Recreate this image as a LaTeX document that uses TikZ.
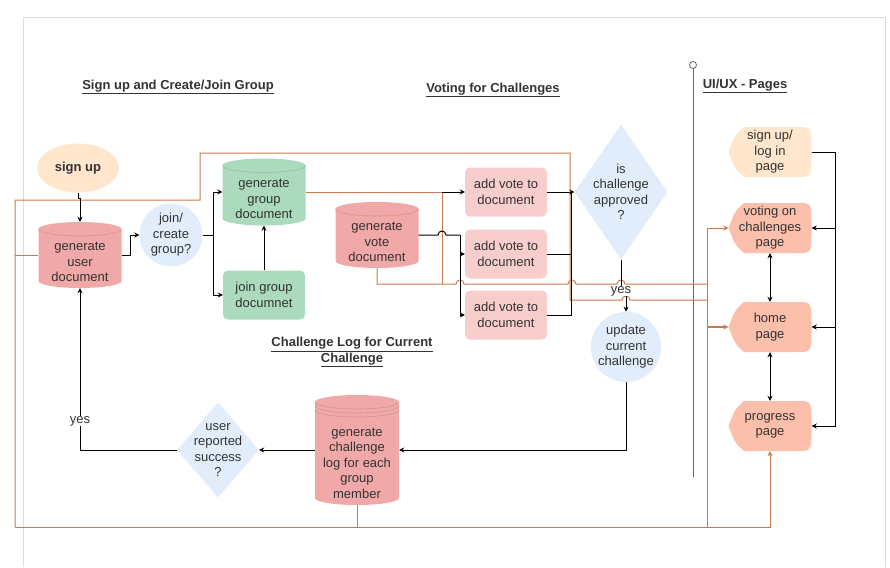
\documentclass[tikz,border=0pt]{standalone}
\usepackage{fontspec}
\setmainfont{Liberation Sans}
\usetikzlibrary{arrows.meta}
\usetikzlibrary{shapes.geometric}
\tikzset{>={Stealth[length=5pt,width=5pt]}}

\definecolor{txtgray}{HTML}{333333}
\definecolor{framegray}{HTML}{DDDDDD}
\definecolor{divgray}{HTML}{666666}
\definecolor{peach}{HTML}{FFE6CC}
\definecolor{salmon}{HTML}{FBBFAB}
\definecolor{dbpink}{HTML}{F0A9A8}
\definecolor{votepink}{HTML}{F8CECC}
\definecolor{dbgreen}{HTML}{ABDABD}
\definecolor{askblue}{HTML}{E2EDFB}
\definecolor{orangeln}{HTML}{C87A4D}

\tikzset{
  txt/.style={font=\fontsize{13}{15.5}\selectfont, text=txtgray, align=center, inner sep=1pt},
  ttl/.style={font=\bfseries\fontsize{13}{15.5}\selectfont, text=txtgray, align=center},
  dbbox/.style={rectangle, minimum width=83pt, minimum height=66pt, inner sep=0pt},
  votebox/.style={txt, rectangle, rounded corners=5pt, fill=votepink, minimum width=82pt, minimum height=49pt},
  askdia/.style={diamond, fill=askblue, inner sep=0pt},
  askcirc/.style={txt, circle, fill=askblue, minimum size=63pt, inner sep=0pt},
  pagebox/.style={txt, rectangle, minimum width=83pt, minimum height=50pt, inner sep=0pt},
  wire/.style={line width=1pt, black},
  owire/.style={line width=1pt, orangeln},
}

% cylinder body: centre x, centre y, width, height, colour
\newcommand{\dbfill}[5]{%
  \fill[#5] ({#1-#3/2},{#2-#4/2+7}) arc[start angle=180,end angle=360,x radius=#3/2,y radius=7]
    -- ({#1+#3/2},{#2+#4/2-7}) arc[start angle=0,end angle=180,x radius=#3/2,y radius=7] -- cycle;
  \draw[#5!88!black, line width=.6pt] ({#1-#3/2},{#2-#4/2+7}) arc[start angle=180,end angle=0,x radius=#3/2,y radius=7];
}
% page (display) body: centre x, centre y, colour
\newcommand{\pagefill}[3]{%
  \fill[#3] ({#1-41.5},#2) .. controls ({#1-35},{#2-17}) .. ({#1-26},{#2-25}) -- ({#1+28},{#2-25})
    .. controls ({#1+41.5},{#2-25}) .. ({#1+41.5},#2) .. controls ({#1+41.5},{#2+25}) .. ({#1+28},{#2+25})
    -- ({#1-26},{#2+25}) .. controls ({#1-35},{#2+17}) .. cycle;
}

\begin{document}
\begin{tikzpicture}[x=1pt, y=-1pt]
  \useasboundingbox (0,0) rectangle (890,567);
  % frame and divider
  \draw[framegray, line width=1pt] (23,567) -- (23,18) -- (885,18) -- (885,567);
  \draw[divgray, line width=1pt] (693,477) -- (693,68.5);
  \draw[divgray, line width=.8pt, fill=white] (693,65) circle (3.5);

  % titles
  \node[ttl] (tsign) at (178,87) {\underline{Sign up and Create/Join Group}};
  \node[ttl] (tvote) at (493,90) {\underline{Voting for Challenges}};
  \node[ttl] (tui) at (745,86) {\underline{UI/UX - Pages}};
  \node[ttl] (tlog) at (352,352) {\underline{Challenge Log for Current}\\\underline{Challenge}};

  % shape bodies
  \dbfill{80}{255}{83}{66}{dbpink}
  \dbfill{264}{192}{83}{67}{dbgreen}
  \dbfill{377}{235}{83}{66}{dbpink}
  \dbfill{357}{450}{84}{110}{dbpink}
  \foreach \dy in {4,8}
    \draw[dbpink!88!black, line width=.6pt] (315,{395+7+\dy}) arc[start angle=180,end angle=0,x radius=42,y radius=7];
  \pagefill{770}{152}{peach}
  \pagefill{770}{228}{salmon}
  \pagefill{770}{327}{salmon}
  \pagefill{770}{426}{salmon}

  % nodes
  \node[txt, ellipse, fill=peach, minimum width=82pt, minimum height=49pt, font=\bfseries\fontsize{13}{15.5}\selectfont] (signup) at (78,168) {sign up};
  \node[dbbox, label={[txt,yshift=-7pt]center:generate\\user\\document}] (userdb) at (80,255) {};
  \node[askcirc] (joinq) at (171,235) {join/\\create\\group?};
  \node[dbbox, minimum height=67pt, label={[txt,yshift=-7pt]center:generate\\group\\document}] (groupdb) at (264,192) {};
  \node[votebox, fill=dbgreen] (joindoc) at (264,295) {join group\\documnet};
  \node[dbbox, label={[txt,yshift=-7pt]center:generate\\vote\\document}] (votedb) at (377,235) {};
  \node[votebox] (vote1) at (506,192) {add vote to\\document};
  \node[votebox] (vote2) at (506,254) {add vote to\\document};
  \node[votebox] (vote3) at (506,315) {add vote to\\document};
  \node[askdia, minimum width=93pt, minimum height=135pt, label={[txt]center:is\\challenge\\approved\\?}] (appr) at (621,192) {};
  \node[askcirc, minimum size=66pt] (upd) at (626,347) {update\\current\\challenge};
  \node[dbbox, minimum width=84pt, minimum height=110pt, label={[txt,yshift=-13pt]center:generate\\challenge\\log for each\\group\\member}] (chlog) at (357,450) {};
  \node[askdia, minimum width=82pt, minimum height=95pt, label={[txt]center:user\\reported\\success\\?}] (succ) at (218,450) {};
  \node[pagebox] (pgsign) at (770,152) {sign up/\\log in\\page};
  \node[pagebox] (pgvote) at (770,228) {voting on\\challenges\\page};
  \node[pagebox] (pghome) at (770,327) {home\\page};
  \node[pagebox] (pgprog) at (770,426) {progress\\page};
  \coordinate (gcorner) at (442,192);

  % orange links
  \draw[owire] (userdb.west) -- (15,255);
  \draw[owire] (15,527) -- (15,200) -- (200,200) -- (200,153) -- (570,153) -- (570,300)
    -- (622,300) arc[start angle=180,end angle=360,radius=4] -- (707,300);
  \draw[owire, ->] (15,527) -| (pgprog.south);
  \draw[owire] (chlog.south) -- ++(0,22);
  \draw[owire] (groupdb.east) -- (gcorner) -- (442,284);
  \draw[owire] (votedb.south) -- (377,284) -- (456,284) arc[start angle=180,end angle=360,radius=4]
    -- (568,284) arc[start angle=180,end angle=360,radius=4]
    -- (617,284) arc[start angle=180,end angle=360,radius=4] -- (707,284);
  \draw[owire] (707,527) -- (707,228);
  \draw[owire, ->] (707,228) -- (pgvote.west);
  \draw[owire, ->, line width=2pt] (707,327) -- (pghome.west);

  % black links
  \draw[wire, ->] (signup.south) -- ++(0,6) -| (userdb.north);
  \draw[wire, ->] (userdb.east) -- ++(9,0) |- (joinq.west);
  \draw[wire] (joinq.east) -- ++(11,0) coordinate (jsplit);
  \draw[wire, ->] (jsplit) |- (groupdb.west);
  \draw[wire, ->] (jsplit) |- (joindoc.west);
  \draw[wire, ->] (joindoc) -- (groupdb);
  \draw[wire, ->] (gcorner) -- (vote1.west);
  \draw[wire] (votedb.east) -- (438,235) arc[start angle=180,end angle=360,radius=4] -- (460,235) coordinate (vsplit);
  \draw[wire, ->] (vsplit) |- (vote2.west);
  \draw[wire, ->] (vsplit) |- (vote3.west);
  \draw[wire, ->] (vote1.east) -- (appr.west);
  \draw[wire] (vote2.east) -| (571,192);
  \draw[wire] (vote3.east) -| (571,192);
  \draw[wire, ->] (appr.south) -- ++(0,33) -| (upd.north);
  \node[txt, fill=white, inner sep=0pt] (yes1) at (621,291) {yes};
  \draw[wire, ->] (upd.south) |- (chlog.east);
  \draw[wire, ->] (chlog.west) -- (succ.east);
  \draw[wire, ->] (succ.west) -| (userdb.south) node[txt, pos=.59, fill=white, inner sep=0pt] (yes2) {yes};
  \draw[wire, ->] (pgsign.east) -- ++(24,0) |- (pgvote.east);
  \draw[wire, ->] (pgsign.east) -- ++(24,0) |- (pghome.east);
  \draw[wire, ->] (pgsign.east) -- ++(24,0) |- (pgprog.east);
  \draw[wire, <->] (pgvote) -- (pghome);
  \draw[wire, <->] (pghome) -- (pgprog);
\end{tikzpicture}
\end{document}
